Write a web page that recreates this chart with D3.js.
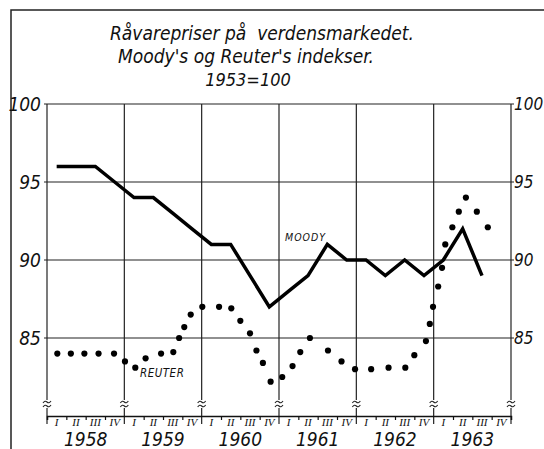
<!DOCTYPE html>
<html>
<head>
<meta charset="utf-8">
<script src="https://cdn.jsdelivr.net/npm/d3@7"></script>
<style>
  body { margin: 0; background: #fff; }
  text { font-family: "DejaVu Sans Condensed", "DejaVu Sans", sans-serif; font-style: italic; fill: #111; }
</style>
</head>
<body>
<div id="chart"></div>
<script>
// --- data ---
var years = [1958, 1959, 1960, 1961, 1962, 1963];
var quarterLabels = ["I", "II", "III", "IV"];
var yTicks = [100, 95, 90, 85];

// Moody's index, quarterly from 1958 I to 1963 III
var moody = [96, 96, 96, 95,
             94, 94, 93, 92,
             91, 91, 89, 87,
             88, 89, 91, 90,
             90, 89, 90, 89,
             90, 92, 89];

// Reuter's index, dots (month since Jan 1958, value)
var reuterMonth = [1.6, 3.7, 5.8, 8.0, 10.4, 12.1, 13.7, 15.3, 17.7, 19.6, 20.5, 21.3, 22.3,
                   24.1, 26.7, 28.6, 30.0, 31.5, 32.5, 33.5, 34.7, 36.5, 38.1, 39.3, 40.8,
                   43.6, 45.7, 47.8, 50.3, 53.0, 55.6, 57.0, 58.8, 59.4, 59.9, 60.7, 61.3,
                   61.8, 62.9, 63.9, 65.0, 66.7, 68.4];
var reuterValue = [84.0, 84.0, 84.0, 84.0, 84.0, 83.5, 83.1, 83.7, 84.0, 84.1, 85.0, 85.7, 86.5,
                   87.0, 87.0, 86.9, 86.1, 85.3, 84.2, 83.4, 82.2, 82.5, 83.2, 84.1, 85.0,
                   84.2, 83.5, 83.0, 83.0, 83.1, 83.1, 83.9, 84.8, 85.9, 87.0, 88.3, 89.5,
                   91.0, 92.1, 93.1, 94.0, 93.1, 92.1];

var width = 544, height = 449;

var x = d3.scaleLinear().domain([0, 72]).range([47, 511]);
var y = d3.scaleLinear().domain([80, 100]).range([416, 104]);

var svg = d3.select("#chart").append("svg")
  .attr("width", width)
  .attr("height", height);

// outer frame (top and left edges of the scanned page)
svg.append("path")
  .attr("d", "M11,449V10H544")
  .attr("fill", "none").attr("stroke", "#222").attr("stroke-width", 1.5);

// title
var title = [
  {t: "Råvarepriser på  verdensmarkedet.", cx: 262, by: 40, fs: 19},
  {t: "Moody's og Reuter's indekser.", cx: 246, by: 63, fs: 19},
  {t: "1953=100", cx: 248, by: 86, fs: 18}
];
svg.selectAll(".title").data(title).enter().append("text")
  .attr("class", "title")
  .attr("x", function(d) { return d.cx; })
  .attr("y", function(d) { return d.by; })
  .attr("text-anchor", "middle")
  .style("font-size", function(d) { return d.fs + "px"; })
  .style("white-space", "pre")
  .text(function(d) { return d.t; });

var grid = svg.append("g").attr("stroke", "#222").attr("stroke-width", 1.2);

// horizontal grid lines
grid.selectAll(".hl").data(yTicks).enter().append("line")
  .attr("x1", x(0) - 3).attr("x2", x(72) + 3)
  .attr("y1", function(d) { return y(d); })
  .attr("y2", function(d) { return y(d); });

// year boundaries with break marks
var bounds = d3.range(0, 73, 12);
var breakY = 404;
bounds.forEach(function(m) {
  var xx = x(m);
  grid.append("line").attr("x1", xx).attr("x2", xx).attr("y1", y(100)).attr("y2", breakY - 4);
  grid.append("line").attr("x1", xx).attr("x2", xx).attr("y1", breakY + 4).attr("y2", y(80) + 8);
  [breakY - 2, breakY + 2].forEach(function(by) {
    grid.append("path")
      .attr("fill", "none")
      .attr("stroke-width", 1.1)
      .attr("d", "M" + (xx - 4) + "," + (by + 1) + "q2,-3 4,-1 t4,-1");
  });
});

// bottom axis
var xAxis = d3.axisBottom(x)
  .tickValues(d3.range(0, 72, 3).filter(function(m) { return m % 12 !== 0; }))
  .tickSize(4)
  .tickFormat("");
var ax = svg.append("g")
  .attr("transform", "translate(0," + y(80) + ")")
  .call(xAxis);
ax.select(".domain").attr("stroke", "#111").attr("stroke-width", 1.5);
ax.selectAll(".tick line").attr("stroke", "#111").attr("stroke-width", 1.2);

// quarter labels
var qData = [];
years.forEach(function(yr, i) {
  quarterLabels.forEach(function(q, j) { qData.push({m: i * 12 + j * 3 + 1.5, q: q}); });
});
svg.selectAll(".ql").data(qData).enter().append("text")
  .attr("x", function(d) { return x(d.m); })
  .attr("y", y(80) + 9.5)
  .attr("text-anchor", "middle")
  .style("font-family", "'Liberation Serif', serif")
  .style("font-size", "11px")
  .text(function(d) { return d.q; });

// year labels
svg.selectAll(".yl").data(years).enter().append("text")
  .attr("x", function(d, i) { return x(i * 12 + 6); })
  .attr("y", 446)
  .attr("text-anchor", "middle")
  .style("font-size", "19px")
  .text(function(d) { return d; });

// left / right axis labels
var yAxisL = d3.axisLeft(y).tickValues(yTicks).tickSize(0).tickPadding(6);
var gl = svg.append("g").attr("transform", "translate(" + x(0) + ",0)").call(yAxisL);
var yAxisR = d3.axisRight(y).tickValues(yTicks).tickSize(0).tickPadding(3);
var gr = svg.append("g").attr("transform", "translate(" + x(72) + ",0)").call(yAxisR);
[gl, gr].forEach(function(g, i) {
  g.select(".domain").remove();
  g.selectAll("text")
    .style("font-family", "'DejaVu Sans Condensed', 'DejaVu Sans', sans-serif")
    .style("font-style", "italic")
    .style("font-size", i === 0 ? "19px" : "17px")
    .attr("fill", "#111");
});

// Moody's line
var line = d3.line()
  .x(function(d, i) { return x(i * 3 + 1.5); })
  .y(function(d) { return y(d); });
svg.append("path")
  .datum(moody)
  .attr("fill", "none")
  .attr("stroke", "#000")
  .attr("stroke-width", 3.5)
  .attr("stroke-linejoin", "miter")
  .attr("d", line);

// Reuter's dots
svg.selectAll(".dot").data(reuterValue).enter().append("circle")
  .attr("cx", function(d, i) { return x(reuterMonth[i]); })
  .attr("cy", function(d) { return y(d); })
  .attr("r", 3.1)
  .attr("fill", "#000");

// series labels
svg.append("text")
  .attr("x", 285).attr("y", 241)
  .style("font-size", "10.5px")
  .style("letter-spacing", "1px")
  .text("MOODY");
svg.append("text")
  .attr("x", 140).attr("y", 377)
  .style("font-size", "11.5px")
  .style("letter-spacing", "0.5px")
  .text("REUTER");
</script>
</body>
</html>
